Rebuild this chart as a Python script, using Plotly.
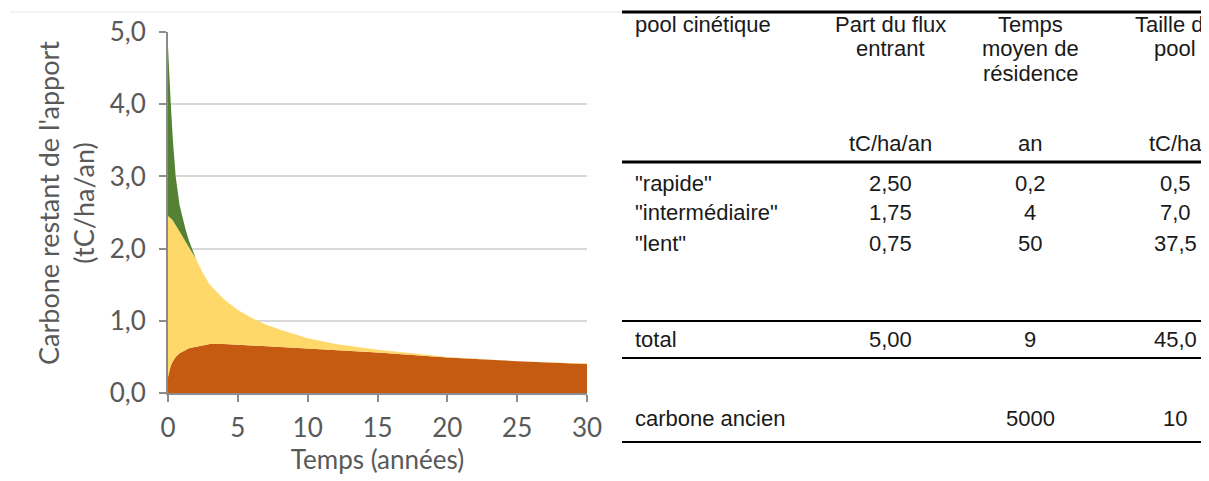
import plotly.graph_objects as go

# ---------------- chart data ----------------
t = [0, 0.1, 0.2, 0.35, 0.55, 0.83, 1.0, 1.25, 1.5, 1.75, 2.0, 2.5, 3, 4, 5, 6, 7, 8,
     10, 12, 15, 18, 20, 25, 30]
# top of the "lent" band (dark orange)
lent_top = [0.22, 0.32, 0.38, 0.44, 0.50, 0.55, 0.57, 0.60, 0.62, 0.63, 0.64, 0.67, 0.68,
            0.68, 0.67, 0.66, 0.65, 0.64, 0.62, 0.60, 0.56, 0.52, 0.49, 0.44, 0.40]
# top of the "intermédiaire" band (yellow), stacked on lent
inter_top = [2.45, 2.44, 2.42, 2.39, 2.33, 2.24, 2.18, 2.10, 2.02, 1.94, 1.86, 1.66, 1.50,
             1.30, 1.15, 1.04, 0.95, 0.88, 0.76, 0.68, 0.60, 0.54, 0.50, 0.44, 0.41]
# top of the "rapide" band (green), stacked on the others
rapide_top = [4.8, 4.3, 4.0, 3.5, 3.0, 2.6, 2.45, 2.27, 2.11, 1.97, 1.86, 1.66, 1.50,
              1.30, 1.15, 1.04, 0.95, 0.88, 0.76, 0.68, 0.60, 0.54, 0.50, 0.44, 0.41]

x_ticks = [0, 5, 10, 15, 20, 25, 30]
y_ticks = [0, 1, 2, 3, 4, 5]

# ---------------- table data ----------------
col_headers = [["pool cinétique"], ["Part du flux", "entrant"],
               ["Temps", "moyen de", "résidence"], ["Taille du", "pool"]]
units = ["", "tC/ha/an", "an", "tC/ha"]
pools = ['"rapide"', '"intermédiaire"', '"lent"']
flux = ["2,50", "1,75", "0,75"]
temps = ["0,2", "4", "50"]
taille = ["0,5", "7,0", "37,5"]
total_row = ["total", "5,00", "9", "45,0"]
ancien_row = ["carbone ancien", "", "5000", "10"]

# the page body adds an 8 px margin: the figure starts at (8, 8) in the window
OFF = 8
W, H = 1209 - OFF, 481 - OFF


def px(x):
    return (x - OFF) / W


def py(y):
    return 1 - (y - OFF) / H


ORANGE = "#C55A11"
YELLOW = "#FED868"
GREEN = "#548235"

fig = go.Figure()
fig.add_trace(go.Scatter(x=t, y=lent_top, mode="lines", line=dict(width=0, color=ORANGE),
                         fill="tozeroy", fillcolor=ORANGE, name="lent", hoverinfo="skip"))
fig.add_trace(go.Scatter(x=t, y=inter_top, mode="lines", line=dict(width=0, color=YELLOW),
                         fill="tonexty", fillcolor=YELLOW, name="intermédiaire", hoverinfo="skip"))
fig.add_trace(go.Scatter(x=t, y=rapide_top, mode="lines", line=dict(width=0, color=GREEN),
                         fill="tonexty", fillcolor=GREEN, name="rapide", hoverinfo="skip"))

CHART_FONT = "Lato, 'Open Sans', sans-serif"
GRAY = "#595959"
FS = 26

fig.update_layout(
    width=W, height=H,
    margin=dict(l=0, r=0, t=0, b=0),
    paper_bgcolor="white", plot_bgcolor="white",
    showlegend=False,
    separators=", ",
    font=dict(family=CHART_FONT, color=GRAY, size=FS),
    xaxis=dict(domain=[px(168), px(587)], range=[0, 30], tickvals=x_ticks,
               showgrid=False, zeroline=False, showline=True, linecolor="#8C8C8C",
               linewidth=2, ticks="outside", ticklen=7, tickwidth=2, tickcolor="#8C8C8C",
               tickfont=dict(size=FS, color=GRAY), ticklabelstandoff=4,
               title=dict(text="Temps (années)", font=dict(size=FS, color=GRAY), standoff=0),
               automargin=False),
    yaxis=dict(domain=[py(393), py(32)], range=[0, 5], tickvals=y_ticks, tickformat=".1f",
               showgrid=True, gridcolor="#D9D9D9", gridwidth=2, zeroline=False,
               showline=True, linecolor="#8C8C8C", linewidth=2, ticks="outside", ticklen=7,
               tickwidth=2, tickcolor="#8C8C8C", tickfont=dict(size=FS, color=GRAY),
               ticklabelstandoff=8, automargin=False),
)

# y-axis title as two rotated lines
fig.add_annotation(xref="paper", yref="paper", x=px(66), y=py(203),
                   text="Carbone restant de l'apport<br>(tC/ha/an)", textangle=-90,
                   showarrow=False, font=dict(size=27, color=GRAY, family=CHART_FONT),
                   xanchor="center", yanchor="middle")

# faint top border line of the picture
fig.add_shape(type="line", xref="paper", yref="paper", x0=px(10), x1=px(622),
              y0=py(12), y1=py(12), line=dict(color="#E6E6E6", width=1))

# ---------------- table ----------------
TFONT = "'Liberation Sans Narrow', 'Arial Narrow', 'Liberation Sans', Arial, sans-serif"
TCOL = "#1a1a1a"
TS = 22
col_x = [633, 890, 1030, 1175]
col_anchor = ["left", "center", "center", "center"]


def tline(y, w):
    fig.add_shape(type="line", xref="paper", yref="paper", x0=px(622), x1=1.0,
                  y0=py(y), y1=py(y), line=dict(color="black", width=w))


def ttext(x, y, s, anchor):
    fig.add_annotation(xref="paper", yref="paper", x=px(x), y=py(y), text=s,
                       showarrow=False, xanchor=anchor, yanchor="middle",
                       font=dict(family=TFONT, size=TS, color=TCOL))


tline(12, 3)
tline(162, 3)
tline(321, 2)
tline(358, 2)
tline(442, 2)

head_y = [25, 49, 73]
for i, lines in enumerate(col_headers):
    for j, s in enumerate(lines):
        ttext(col_x[i], head_y[j], s, col_anchor[i])
for i, u in enumerate(units):
    if u:
        ttext(col_x[i], 143, u, col_anchor[i])

row_y = [183, 212, 243]
for r in range(3):
    vals = [pools[r], flux[r], temps[r], taille[r]]
    for i, v in enumerate(vals):
        ttext(col_x[i], row_y[r], v, col_anchor[i])

for i, v in enumerate(total_row):
    if v:
        ttext(col_x[i], 339, v, col_anchor[i])
for i, v in enumerate(ancien_row):
    if v:
        ttext(col_x[i], 418, v, col_anchor[i])

fig.write_html("out.html")
